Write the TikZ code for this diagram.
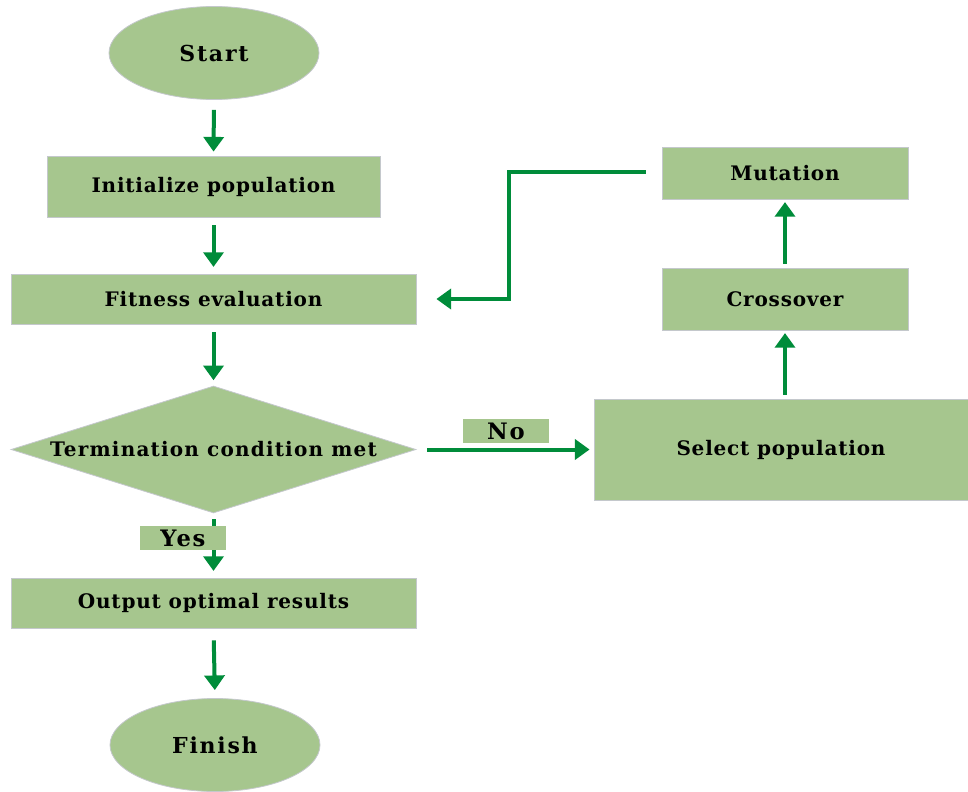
\documentclass[tikz,border=0pt]{standalone}
\usepackage{fontspec}
\setmainfont{DejaVu Serif}
\newfontfamily\lsfont{DejaVu Serif}[LetterSpace=8]
\newfontfamily\boxfont{DejaVu Serif}[LetterSpace=4]
\newfontfamily\condfont{DejaVu Serif}[LetterSpace=6]
\usetikzlibrary{shapes.geometric,arrows.meta}
\definecolor{boxgreen}{HTML}{A6C68E}
\definecolor{arrgreen}{HTML}{008C3A}
\definecolor{edgegray}{HTML}{C4C8CC}
\tikzset{
  box/.style={rectangle,fill=boxgreen,draw=edgegray,line width=0.6pt,inner sep=0pt,
    font=\boxfont\bfseries\fontsize{15}{17}\selectfont},
  oval/.style={ellipse,fill=boxgreen,draw=edgegray,line width=0.6pt,inner sep=0pt,
    minimum width=157.5pt,minimum height=69.75pt,font=\lsfont\bfseries\fontsize{16.5}{18}\selectfont},
  tag/.style={rectangle,fill=boxgreen,inner sep=0pt,minimum width=64.5pt,minimum height=18pt,
    font=\lsfont\bfseries\fontsize{17}{18}\selectfont},
  arr/.style={draw=arrgreen,line width=3pt,-{Triangle[width=15pt,length=11pt]}},
}
\begin{document}
\begin{tikzpicture}[x=0.75pt,y=-0.75pt]
\useasboundingbox (0,0) rectangle (968,792);
% nodes
\node[oval] (start) at (214,53) {Start};
\node[box,minimum width=249.75pt,minimum height=45.75pt] (init) at (213.5,186.5) {Initialize population};
\node[box,minimum width=303.75pt,minimum height=37.5pt] (fit) at (213.5,299) {Fitness evaluation};
\node[diamond,fill=boxgreen,draw=edgegray,line width=0.6pt,inner sep=0pt,
  minimum width=303.75pt,minimum height=95.25pt] (cond) at (213.5,449.5) {};
\node[font=\condfont\bfseries\fontsize{15}{17}\selectfont] (condtext) at (cond.center) {Termination condition met};
\node[box,minimum width=303.75pt,minimum height=37.5pt] (out) at (213.5,603) {Output optimal results};
\node[oval] (finish) at (215,745) {Finish};
\node[box,minimum width=280.5pt,minimum height=75.75pt] (sel) at (781,449.5) {Select population};
\node[box,minimum width=184.5pt,minimum height=46.5pt] (cross) at (785,299) {Crossover};
\node[box,minimum width=184.5pt,minimum height=39pt] (mut) at (785,173) {Mutation};
\coordinate (bend) at (509,172);
% connectors
\draw[arr,shorten <=7.5pt,shorten >=3pt] (start.south) -- (init.north);
\draw[arr,shorten <=6pt,shorten >=5pt] (init.south) -- (fit.north);
\draw[arr,shorten <=6pt,shorten >=4pt] (fit.south) -- (cond.north);
\draw[arr,shorten <=4.5pt,shorten >=5pt] (cond.south) -- (out.north);
\draw[arr,shorten <=9pt,shorten >=6pt] (out.south) -- (finish.north);
\draw[arr,shorten <=8pt,shorten >=3pt] (cond.east) -- (sel.west);
\draw[arr,shorten <=3pt,shorten >=2pt] (sel.north -| cross.south) -- (cross.south);
\draw[arr,shorten <=3pt,shorten >=2pt] (cross.north) -- (mut.south);
\draw[arr,shorten <=12pt,shorten >=15pt] (mut.west |- bend) -- (bend) |- (fit.east);
% labels
\node[tag] (yes) at (183,538) {Yes};
\node[tag] (no) at (506,431) {No};
\end{tikzpicture}
\end{document}
